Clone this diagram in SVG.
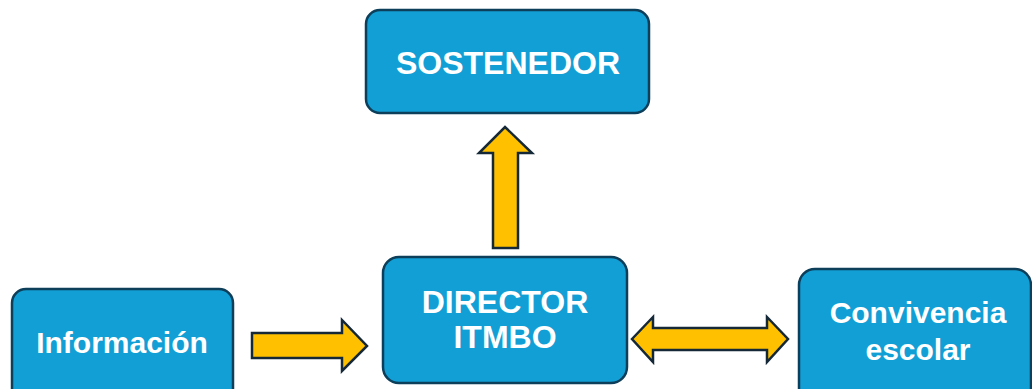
<svg xmlns="http://www.w3.org/2000/svg" width="1032" height="389" viewBox="0 0 1032 389">
<style>
.box{fill:#129FD6;stroke:#0D3E5A;stroke-width:2.5}
.lbl{fill:#fff;font-family:"Liberation Sans",Arial,sans-serif;font-weight:bold;text-anchor:middle}
.arr{fill:#FFC000;stroke:#142838;stroke-width:2.5;stroke-linejoin:miter}
</style>
<rect width="1032" height="389" fill="#fff"/>
<g id="connectors">
<polygon class="arr" points="493,248 518,248 518,153 532,153 505,127 479,153 493,153"/>
<polygon class="arr" points="252,333 342,333 342,320 367,346 342,371 342,358 252,358"/>
<polygon class="arr" points="632,339 653,317 653,328 767,328 767,317 788,339 767,362 767,350 653,350 653,362"/>
</g>
<g id="sostenedor">
<rect class="box" x="366" y="10" width="283" height="103" rx="14"/>
<text class="lbl" x="508" y="74" font-size="32">SOSTENEDOR</text>
</g>
<g id="informacion">
<rect class="box" x="12" y="289" width="221" height="115" rx="14"/>
<text class="lbl" x="122" y="353" font-size="30">Información</text>
</g>
<g id="director">
<rect class="box" x="383" y="257" width="244" height="126" rx="16"/>
<text class="lbl" x="505" y="313" font-size="32">DIRECTOR</text>
<text class="lbl" x="505" y="348" font-size="32">ITMBO</text>
</g>
<g id="convivencia">
<rect class="box" x="799" y="269" width="232" height="135" rx="16"/>
<text class="lbl" x="918" y="323" font-size="30">Convivencia</text>
<text class="lbl" x="918" y="360" font-size="30">escolar</text>
</g>
</svg>
